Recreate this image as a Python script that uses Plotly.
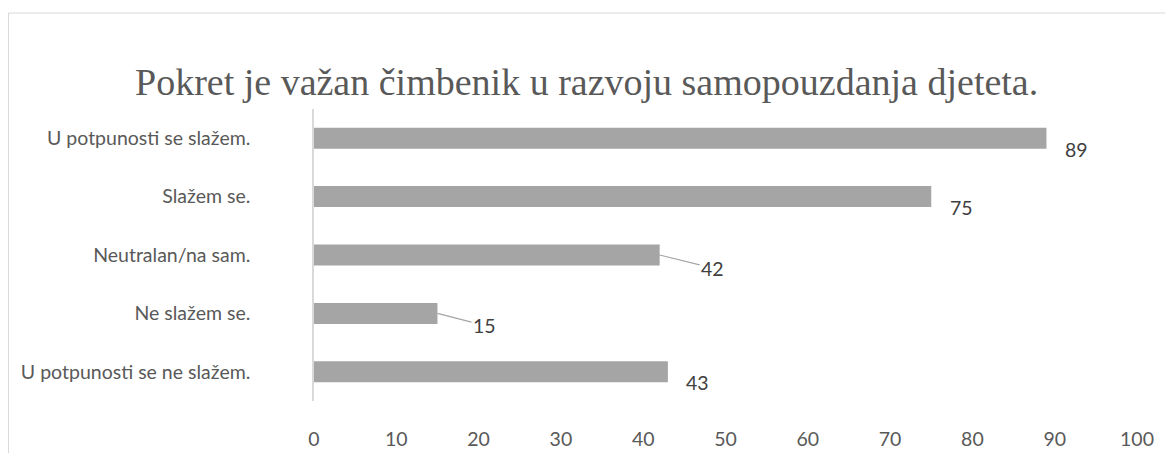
import plotly.graph_objects as go

title_text = "Pokret je važan čimbenik u razvoju samopouzdanja djeteta."
categories = ["U potpunosti se slažem.", "Slažem se.", "Neutralan/na sam.",
              "Ne slažem se.", "U potpunosti se ne slažem."]
values = [89, 75, 42, 15, 43]
x_ticks = [0, 10, 20, 30, 40, 50, 60, 70, 80, 90, 100]

# label placement style (pixel offsets), separate from data
label_style = {
    "Neutralan/na sam.": dict(leader=True, ax=53, ay=13),
    "Ne slažem se.": dict(leader=True, ax=47, ay=12),
}

W, H = 1165, 445
L, R, T, B = 306, 36, 101, 52
pw, ph = W - L - R, H - T - B

FONT = "Lato, Open Sans, sans-serif"

fig = go.Figure(go.Bar(
    y=categories, x=values, orientation="h",
    marker=dict(color="#A5A5A5", line=dict(width=0)),
    hoverinfo="x+y",
))

ann = []
for c, v in zip(categories, values):
    st = label_style.get(c)
    if st:
        ann.append(dict(x=v, y=c, xref="x", yref="y", text=str(v), showarrow=True,
                        arrowhead=0, arrowwidth=1.2, arrowcolor="#A5A5A5",
                        ax=st["ax"], ay=st["ay"], standoff=0,
                        font=dict(family=FONT, size=19.5, color="#404040")))
    else:
        ann.append(dict(x=v, y=c, xref="x", yref="y", text=str(v), showarrow=False,
                        xanchor="center", yanchor="middle", xshift=30, yshift=-11,
                        font=dict(family=FONT, size=19.5, color="#404040")))

ann.append(dict(x=(578 - L) / pw, y=(H - B - 74) / ph, xref="paper", yref="paper",
                text=title_text, showarrow=False, xanchor="center", yanchor="middle",
                font=dict(family="Liberation Serif, Times New Roman, serif", size=38, color="#595959")))

fig.update_layout(
    width=W, height=H,
    margin=dict(l=L, r=R, t=T, b=B, autoexpand=False),
    paper_bgcolor="white", plot_bgcolor="white",
    bargap=0.64, showlegend=False,
    annotations=ann,
    shapes=[dict(type="rect", xref="paper", yref="paper",
                 x0=(0.5 - L) / pw, x1=(W + 20 - L) / pw,
                 y0=(H - B - 470) / ph, y1=(H - B - 5) / ph,
                 line=dict(color="#D9D9D9", width=1), fillcolor="rgba(0,0,0,0)", layer="below")],
    xaxis=dict(range=[0, 100], tickvals=x_ticks, showgrid=False, zeroline=False,
               showline=False, ticks="", ticklabelstandoff=24,
               tickfont=dict(family=FONT, size=19.5, color="#595959")),
    yaxis=dict(categoryorder="array", categoryarray=categories, autorange="reversed",
               showgrid=False, zeroline=False, showline=True, linecolor="#D9D9D9", linewidth=1.5,
               ticks="", ticklabelstandoff=58,
               tickfont=dict(family=FONT, size=19.5, color="#595959")),
)

fig.write_html("out.html")
